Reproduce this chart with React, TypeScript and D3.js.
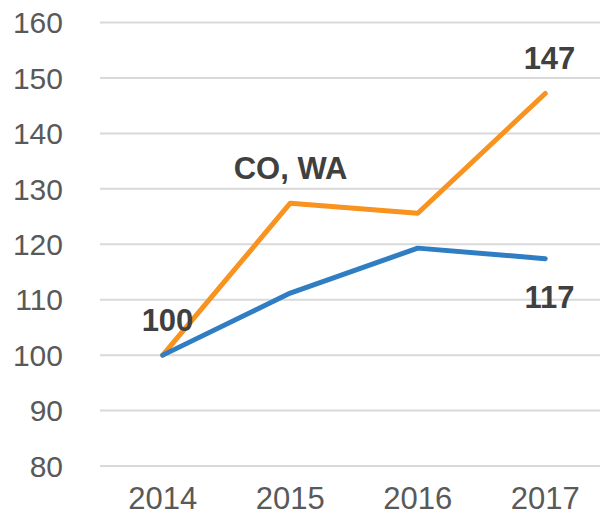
import React, { useEffect, useRef } from "react";
import * as d3 from "d3";

const years = ["2014", "2015", "2016", "2017"];
const orangeValues = [100, 127.4, 125.6, 147.2];
const blueValues = [100, 111.2, 119.3, 117.4];
const yTicks = [80, 90, 100, 110, 120, 130, 140, 150, 160];

const App = () => {
  const svgRef = useRef<SVGSVGElement | null>(null);

  useEffect(() => {
    const width = 600;
    const svg = d3.select(svgRef.current);
    svg.selectAll("*").remove();

    const x = d3.scaleBand().domain(years).range([99, 609]);
    const y = d3.scaleLinear().domain([80, 160]).range([466, 22.5]);
    const cx = (d: string) => (x(d) as number) + x.bandwidth() / 2;
    const font = "'Liberation Sans', Arial, sans-serif";

    // gridlines
    svg
      .append("g")
      .selectAll("line")
      .data(yTicks)
      .enter()
      .append("line")
      .attr("x1", 100)
      .attr("x2", width)
      .attr("y1", (d) => y(d))
      .attr("y2", (d) => y(d))
      .style("stroke", "#d9d9d9")
      .style("stroke-width", 2);

    // y labels
    svg
      .append("g")
      .selectAll("text")
      .data(yTicks)
      .enter()
      .append("text")
      .attr("x", 63)
      .attr("y", (d) => y(d))
      .attr("dy", "0.36em")
      .attr("text-anchor", "end")
      .text((d) => d)
      .style("font-family", font)
      .style("font-size", "30px")
      .style("fill", "#595959");

    // x labels
    svg
      .append("g")
      .selectAll("text")
      .data(years)
      .enter()
      .append("text")
      .attr("x", (d) => cx(d))
      .attr("y", 509)
      .attr("text-anchor", "middle")
      .text((d) => d)
      .style("font-family", font)
      .style("font-size", "31px")
      .style("fill", "#595959");

    const line = d3
      .line<number>()
      .x((d, i) => cx(years[i]))
      .y((d) => y(d));

    svg
      .append("path")
      .attr("d", line(orangeValues))
      .style("fill", "none")
      .style("stroke", "#f7931e")
      .style("stroke-width", 5)
      .style("stroke-linejoin", "round")
      .style("stroke-linecap", "round");

    svg
      .append("path")
      .attr("d", line(blueValues))
      .style("fill", "none")
      .style("stroke", "#2f7dc2")
      .style("stroke-width", 5)
      .style("stroke-linejoin", "round")
      .style("stroke-linecap", "round");

    // annotations
    const notes = [
      { text: "100", x: 167.5, y: 330.5 },
      { text: "CO, WA", x: 290.5, y: 178.5 },
      { text: "147", x: 549.5, y: 68.5 },
      { text: "117", x: 549.5, y: 307.5 },
    ];
    svg
      .append("g")
      .selectAll("text")
      .data(notes)
      .enter()
      .append("text")
      .attr("x", (d) => d.x)
      .attr("y", (d) => d.y)
      .attr("text-anchor", "middle")
      .text((d) => d.text)
      .style("font-family", font)
      .style("font-size", "31px")
      .style("font-weight", "bold")
      .style("fill", "#404040");
  }, []);

  return (
    <svg
      ref={svgRef}
      width={600}
      height={516}
      style={{ position: "absolute", left: 0, top: 0, background: "#fff" }}
    />
  );
};

export default App;
